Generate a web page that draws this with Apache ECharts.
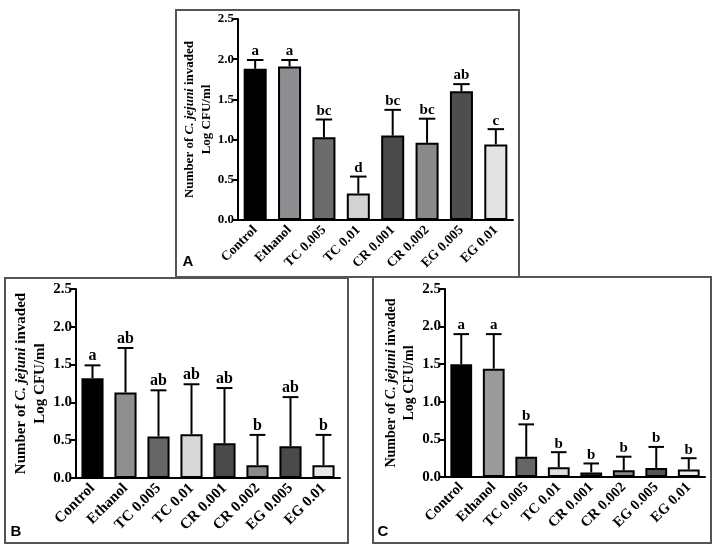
<!DOCTYPE html>
<html style="height: 100%">
<head>
<meta charset="utf-8">
<script src="https://cdn.jsdelivr.net/npm/echarts@6/dist/echarts.min.js"></script>
</head>
<body style="height: 100%; margin: 0; background: #fff">
<div id="container" style="width: 719px; height: 554px"></div>
<script type="text/javascript">
// categories shared by the three panels
var groups = ['Control', 'Ethanol', 'TC 0.005', 'TC 0.01', 'CR 0.001', 'CR 0.002', 'EG 0.005', 'EG 0.01'];
var yTicks = [0, 0.5, 1.0, 1.5, 2.0, 2.5];

// panel A
var meanA = [1.88, 1.91, 1.03, 0.33, 1.05, 0.96, 1.60, 0.94];
var topA = [1.99, 1.99, 1.25, 0.54, 1.37, 1.26, 1.69, 1.13];
var letterA = ['a', 'a', 'bc', 'd', 'bc', 'bc', 'ab', 'c'];
var colorA = ['#000000', '#8e8e92', '#6c6c6c', '#d2d2d2', '#4a4a4a', '#8a8a8c', '#4e4e4e', '#e4e4e4'];

// panel B
var meanB = [1.32, 1.13, 0.55, 0.58, 0.46, 0.17, 0.42, 0.17];
var topB = [1.49, 1.72, 1.16, 1.24, 1.19, 0.57, 1.07, 0.57];
var letterB = ['a', 'ab', 'ab', 'ab', 'ab', 'b', 'ab', 'b'];
var colorB = ['#000000', '#8f8f92', '#666666', '#d8d8d8', '#4a4a4a', '#8a8a8c', '#4a4a4a', '#e8e8e8'];

// panel C
var meanC = [1.50, 1.44, 0.27, 0.13, 0.06, 0.09, 0.12, 0.10];
var topC = [1.90, 1.90, 0.70, 0.33, 0.18, 0.27, 0.40, 0.25];
var letterC = ['a', 'a', 'b', 'b', 'b', 'b', 'b', 'b'];
var colorC = ['#000000', '#9a9a9c', '#666666', '#dedede', '#444444', '#8a8a8c', '#555555', '#ececec'];

var serif = 'Liberation Serif';
var dom = document.getElementById('container');
var myChart = echarts.init(dom);

var panels = [
  {mean: meanA, top: topA, letter: letterA, color: colorA, grid: {left: 238, top: 19, width: 275, height: 201},
   tick: 13, cat: 13.5, mark: 15, nameFont: 13, nameGap: 23},
  {mean: meanB, top: topB, letter: letterB, color: colorB, grid: {left: 76, top: 289, width: 264, height: 189},
   tick: 15, cat: 15, mark: 16, nameFont: 15, nameGap: 26},
  {mean: meanC, top: topC, letter: letterC, color: colorC, grid: {left: 445, top: 289, width: 260, height: 188},
   tick: 15, cat: 14.5, mark: 15, nameFont: 14, nameGap: 27}
];

var grids = [], xAxes = [], yAxes = [], series = [];
panels.forEach(function (p, k) {
  grids.push(p.grid);
  xAxes.push({
    type: 'category', gridIndex: k, data: groups,
    axisLine: {lineStyle: {color: '#000', width: 2}},
    axisTick: {alignWithLabel: true, length: 5, lineStyle: {color: '#000', width: 2}},
    axisLabel: {rotate: 45, interval: 0, margin: 8, color: '#000', fontFamily: serif, fontWeight: 'bold', fontSize: p.cat}
  });
  yAxes.push({
    type: 'value', gridIndex: k, min: 0, max: 2.5, interval: 0.5,
    splitLine: {show: false},
    axisLine: {show: true, lineStyle: {color: '#000', width: 2}},
    axisTick: {show: true, length: 5, lineStyle: {color: '#000', width: 2}},
    axisLabel: {margin: 4, color: '#000', fontFamily: serif, fontWeight: 'bold', fontSize: p.tick,
      formatter: function (v) { return v.toFixed(1); }},
    name: '{n|Number of }{i|C. jejuni}{n| invaded}\n{n|Log CFU/ml}',
    nameLocation: 'middle', nameGap: p.nameGap,
    nameTextStyle: {
      align: 'center',
      rich: {
        n: {fontFamily: serif, fontWeight: 'bold', fontSize: p.nameFont, color: '#000', lineHeight: p.nameFont + 4},
        i: {fontFamily: serif, fontWeight: 'bold', fontStyle: 'italic', fontSize: p.nameFont, color: '#000', lineHeight: p.nameFont + 4}
      }
    }
  });
  series.push({
    type: 'bar', xAxisIndex: k, yAxisIndex: k, barCategoryGap: '33%',
    data: p.mean.map(function (v, i) {
      return {value: v, itemStyle: {color: p.color[i]}};
    }),
    itemStyle: {borderColor: '#000', borderWidth: 2},
    silent: true
  });
  series.push({
    type: 'custom', xAxisIndex: k, yAxisIndex: k, z: 5, silent: true,
    data: p.mean.map(function (v, i) { return [i, v, p.top[i]]; }),
    renderItem: function (params, api) {
      var low = api.coord([api.value(0), api.value(1)]);
      var high = api.coord([api.value(0), api.value(2)]);
      var half = api.size([1, 0])[0] * 0.24;
      return {
        type: 'group',
        children: [
          {type: 'line', shape: {x1: low[0], y1: low[1], x2: high[0], y2: high[1]}, style: {stroke: '#000', lineWidth: 2}},
          {type: 'line', shape: {x1: high[0] - half, y1: high[1], x2: high[0] + half, y2: high[1]}, style: {stroke: '#000', lineWidth: 2}},
          {type: 'text', x: high[0], y: high[1] - 1, style: {
            text: p.letter[params.dataIndex], align: 'center', verticalAlign: 'bottom',
            font: 'bold ' + p.mark + 'px "' + serif + '"', fill: '#000'}}
        ]
      };
    }
  });
});

function frame(x, y, w, h) {
  return {type: 'rect', shape: {x: x, y: y, width: w, height: h}, style: {fill: 'none', stroke: '#555', lineWidth: 2}, silent: true};
}
function tag(t, x, y) {
  return {type: 'text', x: x, y: y, style: {text: t, font: 'bold 15px "Liberation Sans"', fill: '#000', align: 'center', verticalAlign: 'middle'}};
}

option = {
  animation: false,
  backgroundColor: '#fff',
  grid: grids,
  xAxis: xAxes,
  yAxis: yAxes,
  series: series,
  graphic: [
    frame(176, 10, 343, 267),
    frame(5, 278, 343, 265),
    frame(373, 277, 338, 266),
    tag('A', 188, 262),
    tag('B', 16, 532),
    tag('C', 383, 532)
  ]
};
myChart.setOption(option, true);
</script>
</body>
</html>
